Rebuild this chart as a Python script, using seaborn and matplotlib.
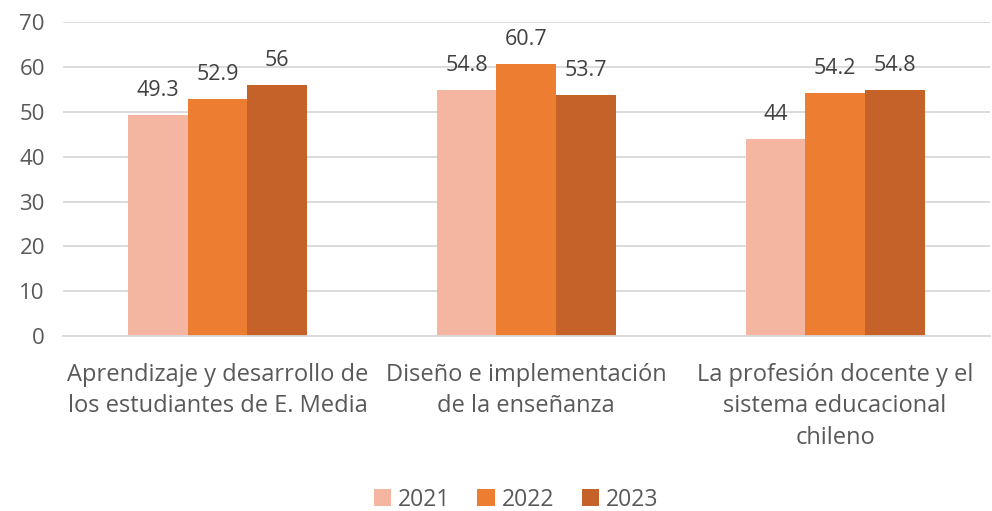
import matplotlib
matplotlib.use("Agg")
import matplotlib.pyplot as plt
import seaborn as sns
import pandas as pd

categories = ["Aprendizaje y desarrollo de\nlos estudiantes de E. Media",
              "Diseño e implementación\nde la enseñanza",
              "La profesión docente y el\nsistema educacional\nchileno"]
years = ["2021", "2022", "2023"]
v2021 = [49.3, 54.8, 44]
v2022 = [52.9, 60.7, 54.2]
v2023 = [56, 53.7, 54.8]
colors = ["#F4B6A0", "#ED7D31", "#C4622A"]

rows = []
for y, vals in zip(years, [v2021, v2022, v2023]):
    for c, v in zip(categories, vals):
        rows.append({"cat": c, "year": y, "val": v})
df = pd.DataFrame(rows)

sns.set_theme(style="white")
plt.rcParams['font.family'] = ['Open Sans', 'DejaVu Sans']
txt = "#595959"

fig = plt.figure(figsize=(9.92, 5.11), dpi=100)
ax = fig.add_axes([0.0635, 0.342, 0.934, 0.615])
sns.barplot(data=df, x="cat", y="val", hue="year", palette=colors,
            width=0.58, gap=0, ax=ax, saturation=1, legend=True,
            linewidth=0, edgecolor="none")
for cont, vals in zip(ax.containers, [v2021, v2022, v2023]):
    ax.bar_label(cont, labels=[f"{v:g}" for v in vals], padding=10,
                 fontsize=15.5, color="#404040")
ax.set_ylim(0, 70)
ax.set_yticks(range(0, 71, 10))
ax.yaxis.grid(True, color="#D9D9D9", linewidth=1.3)
ax.set_axisbelow(True)
for s in ["top", "right", "left"]:
    ax.spines[s].set_visible(False)
ax.spines["bottom"].set_color("#D9D9D9")
ax.spines["bottom"].set_linewidth(1.3)
ax.set_xlabel("")
ax.set_ylabel("")
ax.tick_params(axis="x", length=0, labelsize=17, colors=txt, pad=19)
ax.tick_params(axis="y", length=0, labelsize=16, colors=txt, pad=13)
for lbl in ax.get_xticklabels():
    lbl.set_linespacing(1.42)
ax.set_xlim(-0.5, 2.5)
handles, labels = ax.get_legend_handles_labels()
ax.get_legend().remove()
leg = fig.legend(handles, labels, loc="center", bbox_to_anchor=(0.52, 0.022), ncol=3,
                 frameon=False, fontsize=16.5, handlelength=0.75, handleheight=0.75,
                 columnspacing=1.2, handletextpad=0.3, borderaxespad=0, borderpad=0)
for t in leg.get_texts():
    t.set_color(txt)
fig.savefig("out.png", dpi=100)
